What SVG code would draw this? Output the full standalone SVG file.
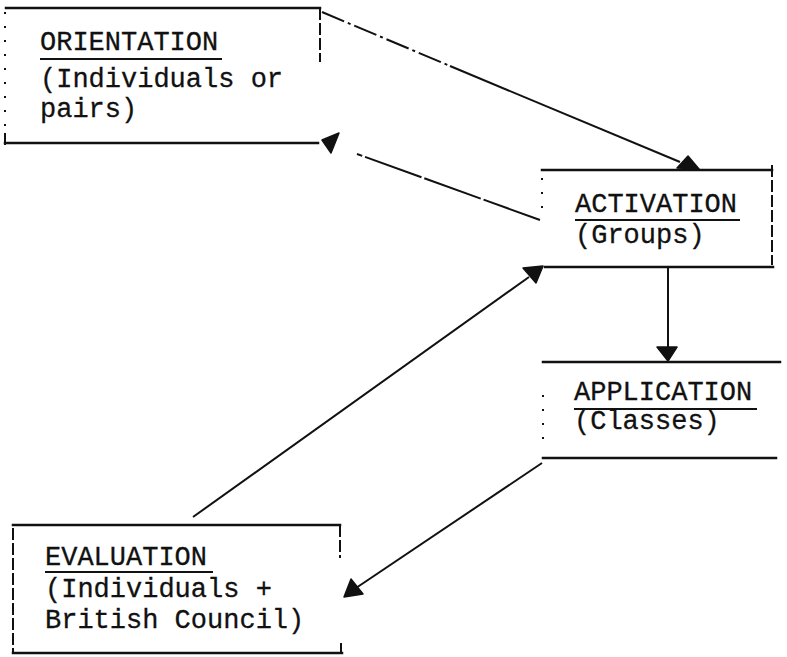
<svg xmlns="http://www.w3.org/2000/svg" width="787" height="657" viewBox="0 0 787 657">
  <style>
    .edge { stroke: #111; stroke-width: 2.5; fill: none; stroke-linecap: square; }
    .side { stroke: #111; stroke-width: 2; fill: none; stroke-dasharray: 12 3; }
    .dots { stroke: #111; stroke-width: 2; fill: none; stroke-dasharray: 2 12; }
    .ul { stroke: #111; stroke-width: 2; }
    .lbl { font-family: "Liberation Mono", "Courier New", monospace; font-size: 27px; fill: #111; stroke: #111; stroke-width: 0.3; }
    .conn { stroke: #111; stroke-width: 2; fill: none; }
    .head { fill: #111; stroke: #111; stroke-width: 1.5; stroke-linejoin: round; }
  </style>
  <rect width="787" height="657" fill="#fff"/>

  <!-- Orientation box -->
  <g id="orientation">
    <line class="edge" x1="6" y1="8" x2="320" y2="8"/>
    <line class="side" x1="320" y1="8" x2="320" y2="62" stroke-dasharray="8 5"/>
    <line class="dots" x1="5" y1="12" x2="5" y2="140"/>
    <line class="edge" x1="5" y1="143" x2="318" y2="143"/>
    <line class="side" x1="5" y1="133" x2="5" y2="148"/>
    <text class="lbl" x="40" y="50">ORIENTATION</text>
    <line class="ul" x1="40" y1="59" x2="222" y2="59"/>
    <text class="lbl" x="40" y="87">(Individuals or</text>
    <text class="lbl" x="40" y="117">pairs)</text>
  </g>

  <!-- Activation box -->
  <g id="activation">
    <line class="edge" x1="542" y1="170" x2="772" y2="170"/>
    <line class="side" x1="772" y1="165" x2="772" y2="265"/>
    <line class="dots" x1="542" y1="178" x2="542" y2="215"/>
    <line class="edge" x1="545" y1="267" x2="773" y2="267"/>
    <text class="lbl" x="575" y="212">ACTIVATION</text>
    <line class="ul" x1="575" y1="220" x2="740" y2="220"/>
    <text class="lbl" x="575" y="243">(Groups)</text>
  </g>

  <!-- Application box -->
  <g id="application">
    <line class="edge" x1="543" y1="362" x2="780" y2="362"/>
    <line class="dots" x1="543" y1="395" x2="543" y2="440"/>
    <line class="edge" x1="543" y1="458" x2="776" y2="458"/>
    <text class="lbl" x="574" y="400">APPLICATION</text>
    <line class="ul" x1="574" y1="409" x2="757" y2="409"/>
    <text class="lbl" x="574" y="429">(Classes)</text>
  </g>

  <!-- Evaluation box -->
  <g id="evaluation">
    <line class="edge" x1="13" y1="525" x2="340" y2="525"/>
    <line class="side" x1="340" y1="525" x2="340" y2="558"/>
    <line class="side" x1="341" y1="643" x2="341" y2="653"/>
    <line class="side" x1="13" y1="528" x2="13" y2="653"/>
    <line class="edge" x1="13" y1="653" x2="342" y2="653"/>
    <text class="lbl" x="45" y="565">EVALUATION</text>
    <line class="ul" x1="45" y1="572" x2="213" y2="572"/>
    <text class="lbl" x="45" y="597">(Individuals +</text>
    <text class="lbl" x="45" y="628">British Council)</text>
  </g>

  <!-- Connectors -->
  <g id="connectors">
    <!-- orientation to activation -->
    <line class="conn" x1="322" y1="12" x2="450" y2="66" stroke-dasharray="24 4 3 4"/>
    <line class="conn" x1="450" y1="66" x2="680" y2="162"/>
    <polygon class="head" points="677,168 699,169 688,156"/>
    <!-- activation back to orientation -->
    <line class="conn" x1="540" y1="220" x2="357" y2="154" stroke-dasharray="60 3"/>
    <polygon class="head" points="322,140 339,133 331,153"/>
    <!-- activation to application -->
    <line class="conn" x1="668" y1="267" x2="668" y2="350"/>
    <polygon class="head" points="657,347 677,347 668,361"/>
    <!-- application to evaluation -->
    <line class="conn" x1="542" y1="463" x2="356" y2="588"/>
    <polygon class="head" points="344,597 351,579 363,594"/>
    <!-- evaluation to activation -->
    <line class="conn" x1="193" y1="517" x2="529" y2="277"/>
    <polygon class="head" points="523,268 543,266 536,283"/>
  </g>
</svg>
